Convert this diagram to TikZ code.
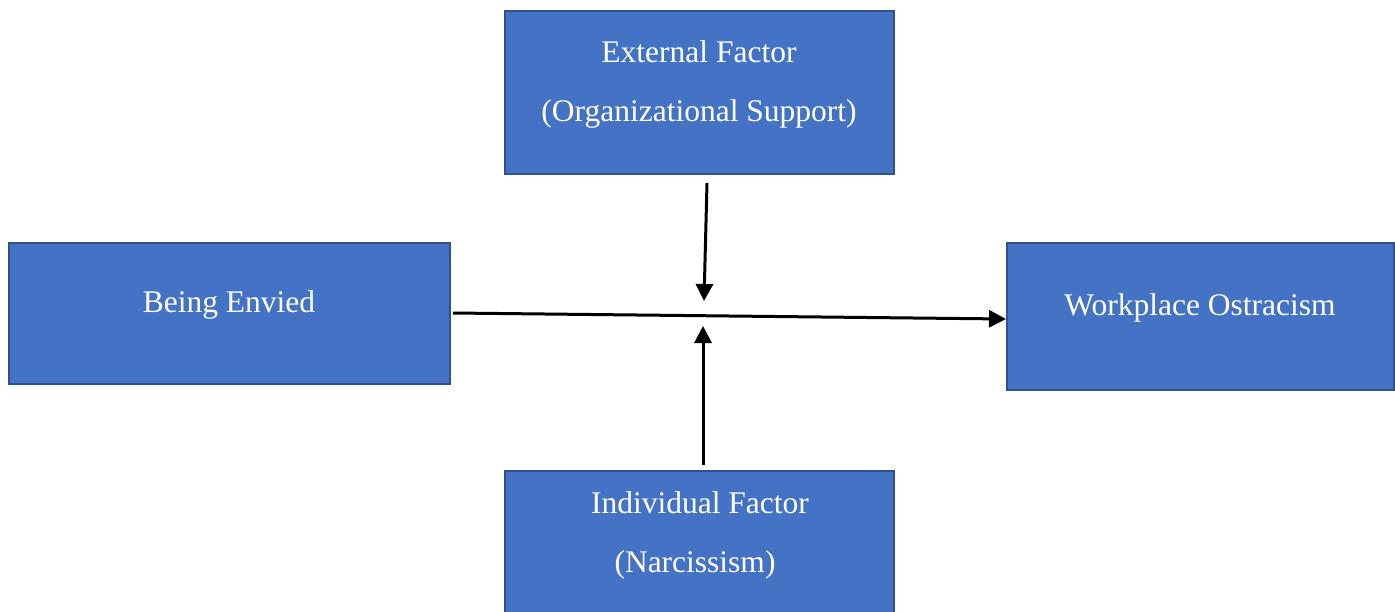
\documentclass[tikz,border=0pt]{standalone}
\usepackage{fontspec}
\setmainfont{Liberation Serif}
\usetikzlibrary{arrows.meta}
\definecolor{boxfill}{HTML}{4472C4}
\definecolor{boxline}{HTML}{2F528F}
\begin{document}
\begin{tikzpicture}[x=1pt,y=-1pt,
  box/.style={draw=boxline,line width=2pt,fill=boxfill,inner sep=0pt,anchor=north west},
  lbl/.style={text=white,font=\fontsize{31.5}{36}\selectfont,inner sep=0pt},
  arr/.style={line width=3pt,-{Triangle[length=17pt,width=17pt]}}]
\useasboundingbox (0,0) rectangle (1395,611);
\begin{scope}
\clip (0,0) rectangle (1395,611);
\node[box,minimum width=389pt,minimum height=163pt] (ext) at (504,10) {};
\node[box,minimum width=441pt,minimum height=141pt] (env) at (8,242) {};
\node[box,minimum width=387pt,minimum height=147pt] (ost) at (1006,242) {};
\node[box,minimum width=389pt,minimum height=150pt] (ind) at (504,470) {};
\end{scope}
\node[lbl] (t1) at (699,52) {External Factor};
\node[lbl] (t2) at (699,114) {(Organizational Support)};
\node[lbl] (t3) at (229,305) {Being Envied};
\node[lbl] (t4) at (1200,308) {Workplace Ostracism};
\node[lbl] (t5) at (700,503) {Individual Factor};
\node[lbl] (t6) at (695,565) {(Narcissism)};
\coordinate (m0) at (453,313);
\coordinate (a0) at (707,183);
\coordinate (a1) at (704,301);
\coordinate (b0) at (703,465);
\coordinate (b1) at (703,326);
\draw[arr] (m0) -- (ost.west |- 0,319);
\draw[arr] (a0) -- (a1);
\draw[arr] (b0) -- (b1);
\end{tikzpicture}
\end{document}
